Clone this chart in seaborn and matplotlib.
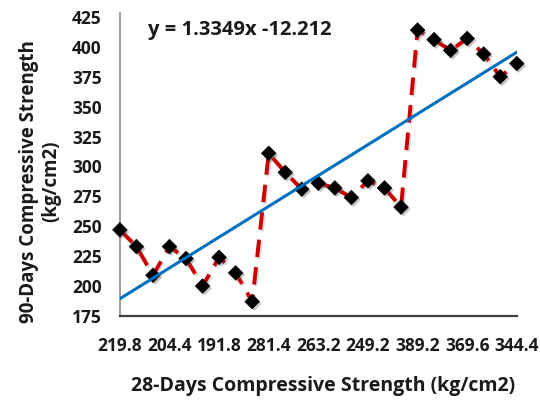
import matplotlib
matplotlib.use("Agg")
import matplotlib.pyplot as plt
import matplotlib.patheffects as pe
import numpy as np
import pandas as pd
import seaborn as sns

# 90-day compressive strength for each specimen (kg/cm2), in test order
strength_90 = [247, 233, 209, 233, 223, 200, 224, 211, 187,
               311, 295, 281, 286, 282, 274, 288, 282, 266,
               414, 406, 397, 407, 394, 375, 386]
# 28-day strength labels shown on every third specimen
tick_labels = ["219.8", "204.4", "191.8", "281.4", "263.2",
               "249.2", "389.2", "369.6", "344.4"]
tick_step = 3
y_ticks = [175, 200, 225, 250, 275, 300, 325, 350, 375, 400, 425]
equation = "y = 1.3349x -12.212"

df = pd.DataFrame({"idx": np.arange(len(strength_90)), "s90": strength_90})

sns.set_theme(style="white")
plt.rcParams["font.family"] = ["Open Sans", "DejaVu Sans"]

fig = plt.figure(figsize=(5.40, 4.03), dpi=100)
ax = fig.add_axes([0.222, 0.216, 0.735, 0.742])

shadow = [pe.SimplePatchShadow(offset=(1.5, -1.5), alpha=0.35, shadow_rgbFace="0.35"),
          pe.Normal()]
line_shadow = [pe.SimpleLineShadow(offset=(1.2, -1.2), alpha=0.2, shadow_color="0.3"),
               pe.Normal()]

sns.lineplot(data=df, x="idx", y="s90", ax=ax, color="#CC0000",
             linewidth=2.8, linestyle=(0, (4.5, 2.6)), zorder=2,
             path_effects=line_shadow)
sns.scatterplot(data=df, x="idx", y="s90", ax=ax, marker="D", s=55,
                color="black", edgecolor="black", linewidth=0.5,
                zorder=3, clip_on=False, path_effects=shadow)
sns.regplot(data=df, x="idx", y="s90", ax=ax, scatter=False, ci=None,
            truncate=True, line_kws=dict(color="#0070C0", linewidth=2.2, zorder=4))

ax.set_xlim(0, len(strength_90) - 1)
ax.set_ylim(175, 425)
ax.set_yticks(y_ticks)
ax.set_yticklabels([str(v) for v in y_ticks], fontsize=12.5, fontweight="bold")
ax.set_xticks(np.arange(0, len(strength_90), tick_step))
ax.set_xticklabels(tick_labels, fontsize=12.5, fontweight="bold")
ax.tick_params(axis="y", length=0, pad=13, colors="#1a1a1a")
ax.tick_params(axis="x", length=0, pad=15, colors="#1a1a1a")

for side in ["top", "right"]:
    ax.spines[side].set_visible(False)
ax.spines["left"].set_color("#8c8c8c")
ax.spines["left"].set_linewidth(1.2)
ax.spines["left"].set_bounds(175, 428)
ax.spines["bottom"].set_color("#404040")
ax.spines["bottom"].set_linewidth(1.6)

ax.set_xlabel("28-Days Compressive Strength (kg/cm2)", fontsize=14,
              fontweight="bold", color="#1a1a1a")
ax.xaxis.set_label_coords(0.513, -0.20)
ax.set_ylabel("90-Days Compressive Strength\n(kg/cm2)", fontsize=13.5,
              fontweight="bold", color="#1a1a1a", linespacing=1.15)
ax.yaxis.set_label_coords(-0.148, 0.45)

ax.text(0.07, 0.955, equation, transform=ax.transAxes, fontsize=14.5,
        fontweight="bold", color="#1a1a1a", ha="left", va="center")

fig.savefig("out.png", dpi=100)
